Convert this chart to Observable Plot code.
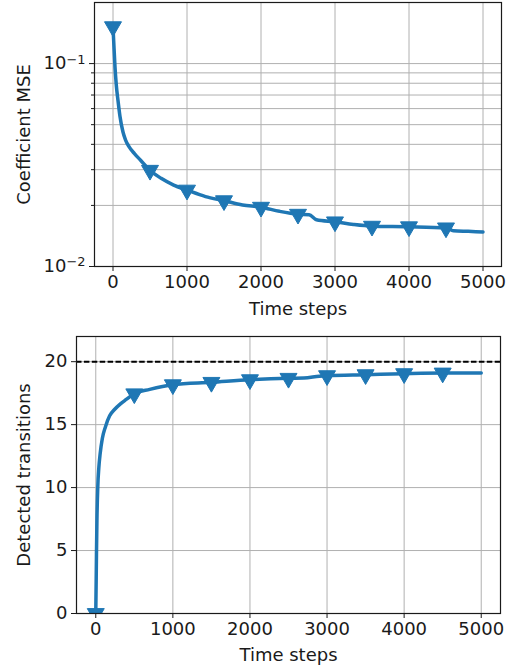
<!DOCTYPE html>
<html>
<head>
<meta charset="utf-8">
<script src="https://cdn.jsdelivr.net/npm/d3@7"></script>
<script src="https://cdn.jsdelivr.net/npm/@observablehq/plot@0.6"></script>
<style>
  html, body { margin: 0; padding: 0; background: white; }
  #chart svg { display: block; }
</style>
</head>
<body>
<div id="chart"></div>
<script>
// ---- data ----
const mseSteps  = [0, 9, 27, 45, 67, 94, 135, 170, 216, 290, 373, 500, 650, 820, 1000, 1250, 1500, 1750, 2000, 2250, 2500, 2650, 2750, 3000, 3250, 3500, 4000, 4500, 4600, 4800, 5000];
const mseValues = [0.152, 0.130, 0.096, 0.078, 0.066, 0.055, 0.046, 0.042, 0.039, 0.036, 0.0334, 0.0298, 0.0272, 0.0252, 0.0238, 0.0221, 0.0211, 0.0201, 0.0196, 0.0187, 0.0181, 0.0180, 0.0170, 0.0166, 0.0161, 0.0158, 0.0157, 0.0155, 0.0150, 0.0149, 0.0148];

const detSteps  = [0, 5, 9, 15, 26, 40, 57, 85, 126, 180, 243, 320, 395, 500, 700, 1000, 1500, 2000, 2500, 2700, 2900, 3000, 3500, 4000, 4500, 5000];
const detValues = [0, 2.5, 4.7, 7.4, 10.05, 11.6, 12.7, 13.9, 14.84, 15.7, 16.2, 16.65, 17.0, 17.45, 17.8, 18.17, 18.36, 18.57, 18.68, 18.7, 18.85, 18.89, 18.97, 19.05, 19.1, 19.1];

const markerSteps = [0, 500, 1000, 1500, 2000, 2500, 3000, 3500, 4000, 4500];
const xTicks = [0, 1000, 2000, 3000, 4000, 5000];
const mseMajorTicks = [0.01, 0.1];
const mseMajorExponents = ["−2", "−1"];
const mseMinorTicks = [0.02, 0.03, 0.04, 0.05, 0.06, 0.07, 0.08, 0.09];
const detTicks = [0, 5, 10, 15, 20];
const targetTransitions = [20];

const mse = mseSteps.map((s, i) => ({step: s, value: mseValues[i]}));
const det = detSteps.map((s, i) => ({step: s, value: detValues[i]}));
const isMarker = d => markerSteps.includes(d.step);

const blue = "#1f77b4";
const gridColor = "#b0b0b0";
const ink = "#1a1a1a";
const chartStyle = {fontFamily: "DejaVu Sans", fontSize: "18px", color: ink, background: "white", overflow: "visible"};

const topChart = Plot.plot({
  width: 513, height: 320,
  marginLeft: 94, marginRight: 12, marginTop: 2, marginBottom: 54,
  style: chartStyle,
  x: {domain: [-250, 5250]},
  y: {type: "log", domain: [0.01, 0.2]},
  marks: [
    Plot.gridX(xTicks, {stroke: gridColor, strokeOpacity: 1, strokeWidth: 1}),
    Plot.gridY([...mseMajorTicks, ...mseMinorTicks], {stroke: gridColor, strokeOpacity: 1, strokeWidth: 1}),
    Plot.line(mse, {x: "step", y: "value", stroke: blue, strokeWidth: 3.5, curve: "monotone-x"}),
    Plot.dot(mse, {filter: isMarker, x: "step", y: "value", symbol: "triangle", rotate: 180, r: 6.3, fill: blue, stroke: blue, strokeWidth: 1}),
    Plot.frame({stroke: ink, strokeWidth: 1.2}),
    Plot.axisX(xTicks, {tickSize: 5, tickPadding: 4, stroke: ink, tickFormat: d => String(d),
      label: "Time steps", labelAnchor: "center", labelArrow: "none", labelOffset: 48}),
    Plot.axisY(mseMajorTicks, {tickSize: 5, tickPadding: 4, stroke: ink,
      tickFormat: d => "10" + mseMajorExponents[mseMajorTicks.indexOf(d)],
      label: "Coefficient MSE", labelAnchor: "center", labelArrow: "none", labelOffset: 77}),
    Plot.axisY(mseMinorTicks, {tickSize: 3, stroke: ink, tickFormat: () => "", label: null})
  ]
});

// render the exponent of the log tick labels as a superscript
d3.select(topChart).selectAll('g[aria-label="y-axis tick label"] text').each(function () {
  const t = this.textContent;
  if (!t.startsWith("10")) return;
  const exp = t.slice(2);
  const sel = d3.select(this);
  sel.text("10");
  sel.append("tspan").attr("dy", "-0.45em").attr("font-size", "0.72em").text(exp);
});

const bottomChart = Plot.plot({
  width: 513, height: 346,
  marginLeft: 76, marginRight: 13, marginTop: 16, marginBottom: 53,
  style: chartStyle,
  x: {domain: [-250, 5250]},
  y: {domain: [0, 22]},
  marks: [
    Plot.gridX(xTicks, {stroke: gridColor, strokeOpacity: 1, strokeWidth: 1}),
    Plot.gridY(detTicks, {stroke: gridColor, strokeOpacity: 1, strokeWidth: 1}),
    Plot.ruleY(targetTransitions, {stroke: "black", strokeWidth: 2, strokeDasharray: "5.5,2.4"}),
    Plot.line(det, {x: "step", y: "value", stroke: blue, strokeWidth: 3.5, curve: "monotone-x", clip: true}),
    Plot.dot(det, {filter: isMarker, x: "step", y: "value", symbol: "triangle", rotate: 180, r: 6.3, fill: blue, stroke: blue, strokeWidth: 1, clip: true}),
    Plot.frame({stroke: ink, strokeWidth: 1.2}),
    Plot.axisX(xTicks, {tickSize: 5, tickPadding: 4, stroke: ink, tickFormat: d => String(d),
      label: "Time steps", labelAnchor: "center", labelArrow: "none", labelOffset: 47}),
    Plot.axisY(detTicks, {tickSize: 5, tickPadding: 4, stroke: ink,
      label: "Detected transitions", labelAnchor: "center", labelArrow: "none", labelOffset: 59})
  ]
});

const el = document.getElementById("chart");
el.appendChild(topChart);
el.appendChild(bottomChart);
</script>
</body>
</html>
